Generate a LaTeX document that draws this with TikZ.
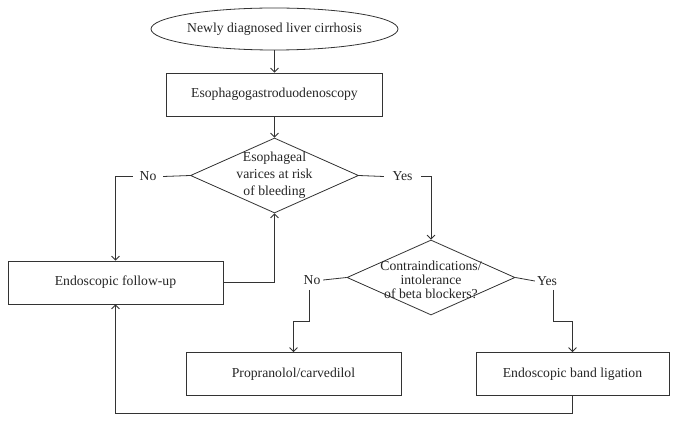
\documentclass[tikz,border=0pt]{standalone}
\usepackage{fontspec}
\setmainfont{Liberation Serif}
\usetikzlibrary{shapes.geometric,arrows.meta}
\begin{document}
\begin{tikzpicture}[x=1pt,y=-1pt,
  every node/.style={text=black!85},
  line/.style={draw=black!80,line width=0.8pt},
  arr/.style={line,-{Straight Barb[length=4pt,width=8pt]}},
  box/.style={draw=black!80,line width=0.8pt,rectangle,inner sep=0pt,font=\fontsize{13.7}{16}\selectfont},
  dia/.style={draw=black!80,line width=0.8pt,diamond,inner sep=0pt,minimum width=168pt,minimum height=75pt},
  dtext/.style={align=center,inner sep=0pt,font=\fontsize{13.7}{17}\selectfont},
  lab/.style={inner sep=0pt,font=\fontsize{13.7}{16}\selectfont}]
\useasboundingbox[fill=white] (0,0) rectangle (678,422);
\node[box,ellipse,minimum width=217pt,minimum height=42pt] (start) at (274.5,29) {Newly diagnosed liver cirrhosis};
\node[box,minimum width=216pt,minimum height=43pt] (egd) at (274.5,94.5) {Esophagogastroduodenoscopy};
\node[dia] (d1) at (274.5,175.5) {};
\node[dtext] (d1t) at (274.5,175) {Esophageal\\varices at risk\\of bleeding};
\node[lab,minimum width=30pt] (no1) at (148,176.5) {No};
\node[lab,minimum width=37pt] (yes1) at (402.5,176.5) {Yes};
\node[box,minimum width=215pt,minimum height=43pt] (fu) at (115.5,282.5) {Endoscopic follow-up};
\node[dia] (d2) at (431,277.5) {};
\node[dtext,font=\fontsize{13.7}{13.8}\selectfont] (d2t) at (431,280) {Contraindications/\\intolerance\\of beta blockers?};
\node[lab,minimum width=22pt] (no2) at (312,280) {No};
\node[lab,minimum width=24pt] (yes2) at (547,281) {Yes};
\node[box,minimum width=215pt,minimum height=43pt] (prop) at (293.5,374) {Propranolol/carvedilol};
\node[box,minimum width=193pt,minimum height=43pt] (band) at (572.5,374) {Endoscopic band ligation};
\coordinate (nb) at (309,290);
\coordinate (nt) at (293.5,321);
\coordinate (yb) at (553,290);
\coordinate (yt) at (572.5,321);
\coordinate (bot) at (115.5,413);
\draw[arr] (start) -- (egd);
\draw[arr] (egd) -- (d1);
\draw[line] (d1.west) -- (no1.east);
\draw[arr] (no1.west) -| (fu.north);
\draw[line] (d1.east) -- (yes1.west);
\draw[arr] (yes1.east) -| (d2.north);
\draw[arr] (fu.east) -| (d1.south);
\draw[line] (d2.west) -- (no2.east);
\draw[line] (d2.east) -- (yes2.west);
\draw[arr] (nb) |- (nt) -- (prop.north -| nt);
\draw[arr] (yb) |- (yt) -- (band.north -| yt);
\draw[arr] (band.south) |- (bot) -- (fu.south -| bot);
\end{tikzpicture}
\end{document}
